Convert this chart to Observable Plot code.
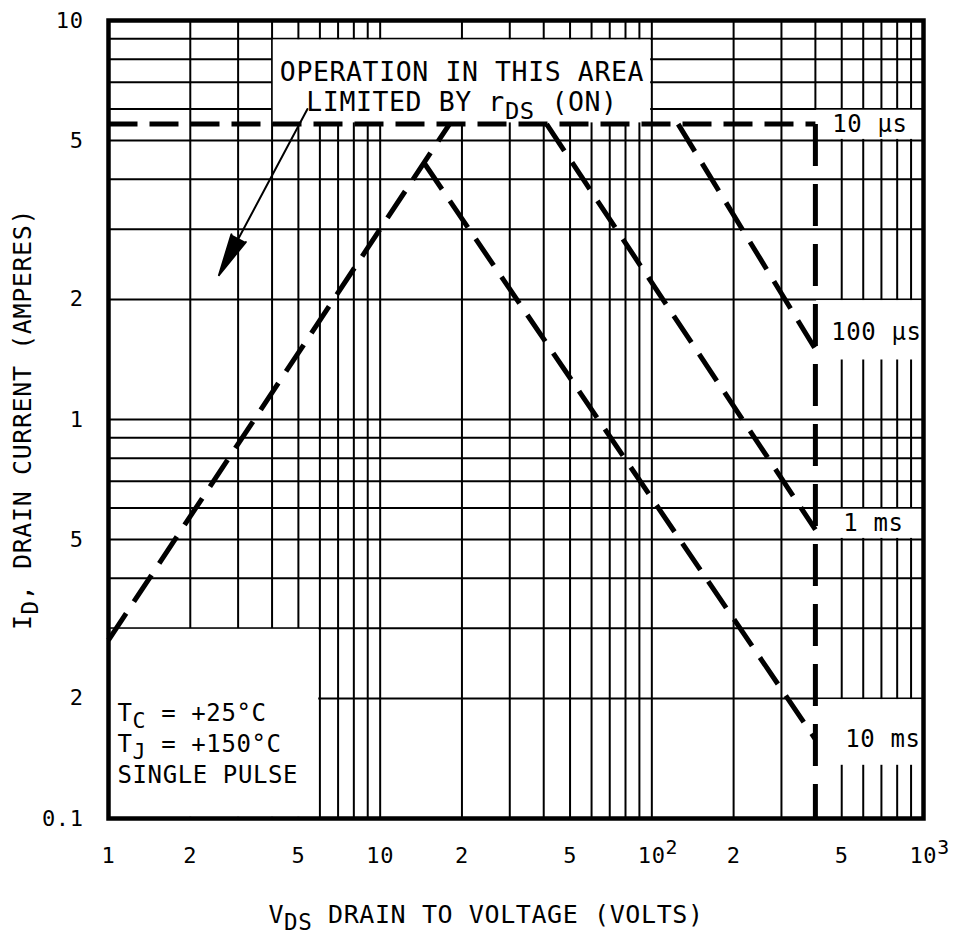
<!DOCTYPE html>
<html>
<head>
<meta charset="utf-8">
<script src="https://cdn.jsdelivr.net/npm/d3@7"></script>
<script src="https://cdn.jsdelivr.net/npm/@observablehq/plot@0.6"></script>
<style>
  body { margin: 0; background: #fff; }
</style>
</head>
<body>
<div id="chart"></div>
<script>
// ---- Data (V_DS in volts, I_D in amperes) ----
const rdsLimit   = [{V: 1, I: 0.28}, {V: 18, I: 5.5}];
const pulse10us  = [{V: 1, I: 5.5}, {V: 400, I: 5.5}];
const bvdssLimit = [{V: 400, I: 5.5}, {V: 400, I: 0.1}];
const pulse100us = [{V: 125, I: 5.5}, {V: 400, I: 1.5}];
const pulse1ms   = [{V: 41, I: 5.5}, {V: 400, I: 0.53}];
const pulse10ms  = [{V: 14.5, I: 4.4}, {V: 400, I: 0.158}];

// Curve labels and the level they sit at
const curveLabels = [
  {label: "10 µs",  I: 5.5},
  {label: "100 µs", I: 1.65},
  {label: "1 ms",   I: 0.55},
  {label: "10 ms",  I: 0.158}
];

// Log-paper grid
const xGrid = [2,3,4,5,6,7,8,9,10,20,30,40,50,60,70,80,90,100,200,300,500,600,700,800,900];
const xGridPartial = [{V: 400, I1: 6, I2: 10}];
const yGrid = [0.2,0.3,0.4,0.5,0.6,0.7,0.8,0.9,1,2,3,4,5,6,7,8,9];

// Tick labels
const xTickValues = [1, 2, 5, 10, 20, 50, 100, 200, 500, 1000];
const xTickLabels = ["1", "2", "5", "10", "2", "5", "10^{2}", "2", "5", "10^{3}"];
const yTickValues = [10, 5, 2, 1, 0.5, 0.2, 0.1];
const yTickLabels = ["10", "5", "2", "1", "5", "2", "0.1"];

// White label areas that interrupt the grid (data extents)
const labelBoxes = [
  {V1: 4,   V2: 100,  I1: 5.5,   I2: 9},
  {V1: 400, V2: 1000, I1: 5,     I2: 6},
  {V1: 400, V2: 1000, I1: 1.4,   I2: 2},
  {V1: 400, V2: 1000, I1: 0.5,   I2: 0.6},
  {V1: 400, V2: 1000, I1: 0.135, I2: 0.2},
  {V1: 1,   V2: 6,    I1: 0.1,   I2: 0.3}
];

const noteLines = ["OPERATION IN THIS AREA", "LIMITED BY r_{DS} (ON)"];
const noteCenterV = 20;
const noteArrow = [{V1: 5.4, I1: 6.0, V2: 2.55, I2: 2.3}];
const conditionLines = ["T_{C} = +25°C", "T_{J} = +150°C", "SINGLE PULSE"];
const xLabel = "V_{DS} DRAIN TO VOLTAGE (VOLTS)";
const yLabel = "I_{D}, DRAIN CURRENT (AMPERES)";

const xTicks = xTickValues.map((v, i) => ({v, label: xTickLabels[i]}));
const yTicks = yTickValues.map((v, i) => ({v, label: yTickLabels[i]}));

const LINE_BREAK = "¶";

const dashed = (data, dash) => Plot.line(data, {
  x: "V", y: "I", stroke: "black", strokeWidth: 5,
  strokeDasharray: dash, strokeLinecap: "butt", strokeLinejoin: "miter"
});

const labelDx = [-16, -2, -20, -3];

const plot = Plot.plot({
  width: 958,
  height: 949,
  marginLeft: 108,
  marginRight: 35,
  marginTop: 20,
  marginBottom: 131,
  x: {type: "log", domain: [1, 1000], axis: null},
  y: {type: "log", domain: [0.1, 10], axis: null},
  style: {fontFamily: "'DejaVu Sans Mono', monospace", letterSpacing: "0.6px", background: "white", color: "black"},
  marks: [
    Plot.ruleX(xGrid, {stroke: "black", strokeWidth: 2}),
    Plot.ruleY(yGrid, {stroke: "black", strokeWidth: 2}),
    Plot.ruleX(xGridPartial, {x: "V", y1: "I1", y2: "I2", stroke: "black", strokeWidth: 2}),
    Plot.rect(labelBoxes, {x1: "V1", x2: "V2", y1: "I1", y2: "I2", fill: "white", inset: 1.2}),
    Plot.frame({stroke: "black", strokeWidth: 4.5}),

    dashed(rdsLimit, "32,14"),
    dashed(pulse10us, "29,12"),
    dashed(bvdssLimit, "42,18"),
    dashed(pulse100us, "32,14"),
    dashed(pulse1ms, "32,14"),
    dashed(pulse10ms, "32,14"),

    Plot.arrow(noteArrow, {x1: "V1", y1: "I1", x2: "V2", y2: "I2", stroke: "black", fill: "black",
      strokeWidth: 2, headLength: 32, headAngle: 22}),

    ...noteLines.map((t, i) => Plot.text([t], {x: () => noteCenterV, frameAnchor: "top", dy: 42 + 30 * i,
      text: d => d, fontSize: 26.5, fill: "black"})),

    ...curveLabels.map((d, i) => Plot.text([d], {y: "I", frameAnchor: "right", dx: labelDx[i],
      textAnchor: "end", text: "label", fontSize: 24, fill: "black"})),

    Plot.text([conditionLines.join(LINE_BREAK)], {frameAnchor: "bottom-left", dx: 9, dy: -98,
      textAnchor: "start", text: d => d, fontSize: 24, fill: "black"}),

    Plot.text(xTicks.filter(d => !d.label.includes("^")), {x: "v", frameAnchor: "bottom", dy: 44,
      text: "label", fontSize: 22, fill: "black"}),
    Plot.text(xTicks.filter(d => d.label.includes("^")), {x: "v", frameAnchor: "bottom", dy: 44, dx: -14,
      textAnchor: "start", text: "label", fontSize: 22, fill: "black"}),
    Plot.text(yTicks, {y: "v", frameAnchor: "left", dx: -25, textAnchor: "end",
      text: "label", fontSize: 22, fill: "black"}),

    Plot.text([xLabel], {frameAnchor: "bottom", dy: 104, dx: -30, textAnchor: "middle",
      text: d => d, fontSize: 25, fill: "black"}),
    Plot.text([yLabel], {frameAnchor: "left", dx: -86, rotate: -90, textAnchor: "middle",
      text: d => d, fontSize: 25, fill: "black"})
  ]
});

document.getElementById("chart").appendChild(plot);

// Turn _{..} / ^{..} markup into sub/superscript tspans, and ¶ into new lines
function richify(root) {
  root.querySelectorAll("text").forEach(node => {
    const s = node.textContent;
    if (!/[_^]\{/.test(s) && !s.includes(LINE_BREAK)) return;
    const fs = parseFloat(getComputedStyle(node).fontSize) || 16;
    const lineHeight = 31;
    while (node.firstChild) node.removeChild(node.firstChild);
    let shift = 0;
    s.split(LINE_BREAK).forEach((line, li) => {
      let newLine = li > 0;
      const add = (txt, newShift, small) => {
        if (!txt) return;
        const t = document.createElementNS("http://www.w3.org/2000/svg", "tspan");
        let d = newShift - shift;
        if (newLine) { t.setAttribute("x", 0); d += lineHeight; newLine = false; }
        if (d) t.setAttribute("dy", d);
        if (small) t.setAttribute("font-size", fs * 0.9);
        t.textContent = txt;
        node.appendChild(t);
        shift = newShift;
      };
      const re = /([_^])\{([^}]*)\}/g;
      let last = 0, m;
      while ((m = re.exec(line))) {
        add(line.slice(last, m.index), 0, false);
        add(m[2], m[1] === "_" ? 0.3 * fs : -0.4 * fs, true);
        last = re.lastIndex;
      }
      add(line.slice(last), 0, false);
    });
  });
}
richify(plot);
</script>
</body>
</html>
